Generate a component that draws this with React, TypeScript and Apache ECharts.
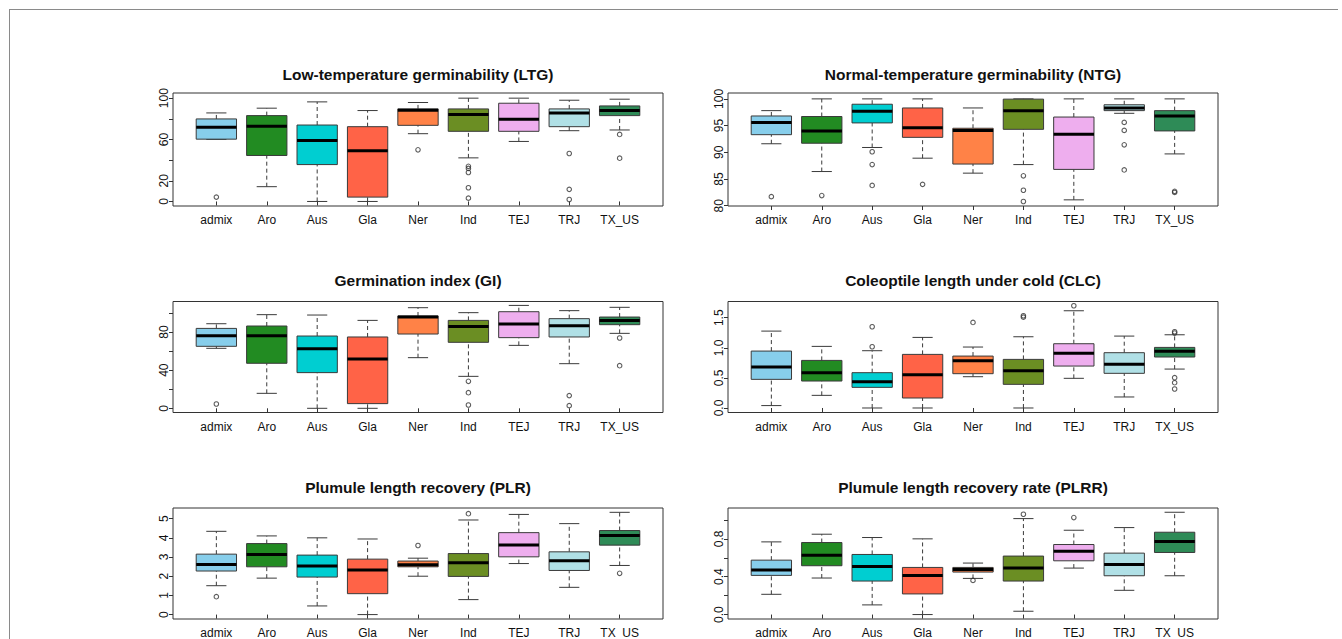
import React, { useEffect, useRef } from "react";
import * as echarts from "echarts";

const categories = ["admix", "Aro", "Aus", "Gla", "Ner", "Ind", "TEJ", "TRJ", "TX_US"];
const boxColors = ["#87CEEB", "#228B22", "#00CED1", "#FF6347", "#FF8247", "#6B8E23", "#EEAEEE", "#B0E0E6", "#2E8B57"];

// each row: [lower whisker, Q1, median, Q3, upper whisker], in category order
const ltgBoxes = [
  [60.0, 60.3, 71.8, 79.9, 85.7],
  [14.3, 44.5, 72.7, 83.1, 90.3],
  [0, 35.7, 59.1, 74.0, 96.4],
  [0, 4.2, 49.0, 72.4, 88.0],
  [65.6, 73.7, 88.3, 89.6, 95.8],
  [42.2, 67.9, 84.1, 89.6, 100],
  [58.1, 67.9, 79.5, 95.1, 100],
  [68.5, 72.4, 85.7, 89.6, 98.0],
  [69.2, 83.1, 88.0, 92.5, 99.0],
];
// each row: [category index, value]
const ltgOutliers = [[0, 4.2], [4, 50], [5, 34], [5, 32], [5, 28], [5, 13.3], [5, 3.2], [7, 46.4], [7, 11.7], [7, 1.9], [8, 64.9], [8, 41.9]];

const ntgBoxes = [
  [91.6, 93.3, 95.6, 96.8, 97.8],
  [86.4, 91.7, 94.0, 96.7, 100],
  [90.9, 95.5, 97.7, 99.0, 100],
  [88.9, 92.8, 94.6, 98.3, 100],
  [86.1, 87.8, 94.1, 94.5, 98.3],
  [87.7, 94.3, 97.8, 99.95, 100],
  [81.1, 86.8, 93.4, 96.6, 100],
  [97.3, 97.8, 98.3, 98.9, 100],
  [89.7, 94.0, 96.8, 97.8, 100],
];
const ntgOutliers = [[0, 81.7], [1, 81.9], [2, 90.1], [2, 87.7], [2, 83.8], [3, 84.0], [5, 85.6], [5, 82.9], [5, 80.8], [7, 95.6], [7, 94.1], [7, 91.4], [7, 86.7], [8, 82.7], [8, 82.5]];

const giBoxes = [
  [62.9, 65.0, 76.2, 83.8, 88.7],
  [15.7, 47.2, 76.2, 86.3, 98.2],
  [0, 37.4, 62.5, 75.8, 97.8],
  [0, 4.9, 51.7, 74.8, 92.2],
  [53.1, 77.9, 95.7, 96.8, 105.5],
  [33.5, 69.2, 85.9, 92.2, 100.3],
  [66.0, 74.1, 88.4, 101.3, 107.9],
  [46.8, 74.8, 86.6, 94.0, 102.4],
  [78.6, 87.7, 92.2, 95.7, 105.9],
];
const giOutliers = [[0, 4.5], [5, 28.3], [5, 16.4], [5, 3.5], [7, 13.3], [7, 2.8], [8, 73.7], [8, 44.7]];

const clcBoxes = [
  [0.04, 0.476, 0.681, 0.946, 1.278],
  [0.21, 0.448, 0.587, 0.791, 1.024],
  [0, 0.343, 0.437, 0.587, 0.952],
  [0, 0.166, 0.553, 0.891, 1.173],
  [0.52, 0.57, 0.786, 0.863, 1.013],
  [0, 0.393, 0.62, 0.808, 1.184],
  [0.493, 0.697, 0.908, 1.068, 1.616],
  [0.183, 0.576, 0.725, 0.919, 1.195],
  [0.647, 0.847, 0.941, 1.007, 1.217],
];
const clcOutliers = [[2, 1.35], [2, 1.018], [4, 1.422], [5, 1.533], [5, 1.51], [6, 1.7], [8, 1.267], [8, 1.245], [8, 0.504], [8, 0.421], [8, 0.315]];

const plrBoxes = [
  [1.505, 2.27, 2.61, 3.15, 4.34],
  [1.9, 2.49, 3.13, 3.7, 4.1],
  [0.45, 1.955, 2.53, 3.1, 4.0],
  [0, 1.09, 2.32, 2.89, 3.94],
  [2.0, 2.49, 2.6, 2.79, 2.94],
  [0.78, 1.99, 2.7, 3.18, 4.93],
  [2.66, 3.01, 3.63, 4.27, 5.22],
  [1.42, 2.3, 2.8, 3.27, 4.74],
  [2.56, 3.62, 4.12, 4.38, 5.33],
];
const plrOutliers = [[0, 0.934], [4, 3.6], [5, 5.26], [8, 2.15]];

const plrrBoxes = [
  [0.214, 0.414, 0.47, 0.575, 0.768],
  [0.386, 0.516, 0.628, 0.761, 0.849],
  [0.102, 0.354, 0.509, 0.635, 0.814],
  [0, 0.218, 0.414, 0.498, 0.8],
  [0.382, 0.449, 0.477, 0.498, 0.544],
  [0.035, 0.354, 0.491, 0.618, 1.014],
  [0.491, 0.568, 0.67, 0.74, 0.891],
  [0.256, 0.41, 0.53, 0.649, 0.919],
  [0.41, 0.656, 0.772, 0.87, 1.081],
];
const plrrOutliers = [[4, 0.361], [5, 1.06], [6, 1.025]];

const ltgTicks = [0, 20, 40, 60, 80, 100];
const ltgLabels = [0, 20, 60, 100];
const ntgTicks = [80, 85, 90, 95, 100];
const giTicks = [0, 20, 40, 60, 80, 100];
const giLabels = [0, 40, 80];
const clcTicks = [0, 0.5, 1.0, 1.5];
const plrTicks = [0, 1, 2, 3, 4, 5];
const plrrTicks = [0, 0.2, 0.4, 0.6, 0.8, 1.0];
const plrrLabels = [0, 0.4, 0.8];

const panels = [
  { title: "Low-temperature germinability (LTG)", boxes: ltgBoxes, outliers: ltgOutliers, yMin: -4.4, yMax: 105, ticks: ltgTicks, labels: ltgLabels, dec: 0 },
  { title: "Normal-temperature germinability (NTG)", boxes: ntgBoxes, outliers: ntgOutliers, yMin: 79.95, yMax: 101.1, ticks: ntgTicks, labels: ntgTicks, dec: 0 },
  { title: "Germination index (GI)", boxes: giBoxes, outliers: giOutliers, yMin: -4.4, yMax: 112, ticks: giTicks, labels: giLabels, dec: 0 },
  { title: "Coleoptile length under cold (CLC)", boxes: clcBoxes, outliers: clcOutliers, yMin: -0.075, yMax: 1.77, ticks: clcTicks, labels: clcTicks, dec: 1 },
  { title: "Plumule length recovery (PLR)", boxes: plrBoxes, outliers: plrOutliers, yMin: -0.23, yMax: 5.555, ticks: plrTicks, labels: plrTicks, dec: 0 },
  { title: "Plumule length recovery rate (PLRR)", boxes: plrrBoxes, outliers: plrrOutliers, yMin: -0.047, yMax: 1.126, ticks: plrrTicks, labels: plrrLabels, dec: 1 },
];

const FONT = "'Liberation Sans', Arial, Helvetica, sans-serif";
const colLeft = [173, 728];
const plotWidth = 490;
const rows = [
  { top: 93, height: 113, titleY: 75.5 },
  { top: 301.5, height: 111, titleY: 281.7 },
  { top: 508, height: 111.5, titleY: 488.3 },
];
const xPositions = categories.map((_, i) => i + 1);

function buildOption() {
  const grid: any[] = [];
  const xAxis: any[] = [];
  const yAxis: any[] = [];
  const series: any[] = [];
  const title: any[] = [];

  panels.forEach((p, k) => {
    const r = rows[Math.floor(k / 2)];
    const left = colLeft[k % 2];
    grid.push({
      left, top: r.top, width: plotWidth, height: r.height,
      show: true, borderColor: "#333", borderWidth: 1, backgroundColor: "rgba(0,0,0,0)", containLabel: false,
    });
    title.push({
      text: p.title, left: left + plotWidth / 2, top: r.titleY - 9, textAlign: "center", padding: 0,
      textStyle: { fontFamily: FONT, fontSize: 15.5, fontWeight: "bold", color: "#111" },
    });
    xAxis.push({
      type: "value", gridIndex: k, min: 0.14, max: 9.86,
      splitLine: { show: false }, axisLine: { show: false },
      axisTick: { show: true, length: 4, customValues: xPositions, lineStyle: { color: "#333", width: 1 } },
      axisLabel: {
        customValues: xPositions, margin: 8, fontSize: 12, color: "#111", fontFamily: FONT,
        formatter: (v: number) => categories[Math.round(v) - 1] ?? "",
      },
    });
    yAxis.push({
      type: "value", gridIndex: k, min: p.yMin, max: p.yMax,
      splitLine: { show: false }, axisLine: { show: false },
      axisTick: { show: true, length: 4, customValues: p.ticks, lineStyle: { color: "#333", width: 1 } },
      axisLabel: {
        customValues: p.labels, rotate: 90, margin: 3, fontSize: 12, color: "#111", fontFamily: FONT,
        formatter: (v: number) => v.toFixed(p.dec),
      },
    });
    series.push({
      type: "custom", xAxisIndex: k, yAxisIndex: k,
      encode: { x: 0, y: [1, 2, 3, 4, 5] },
      data: p.boxes.map((b, i) => [i + 1, ...b]),
      renderItem: (params: any, api: any) => {
        const x = api.value(0);
        const lo = api.coord([x, api.value(1)]);
        const q1 = api.coord([x, api.value(2)]);
        const med = api.coord([x, api.value(3)]);
        const q3 = api.coord([x, api.value(4)]);
        const hi = api.coord([x, api.value(5)]);
        const unit = api.size([1, 0])[0];
        const hb = unit * 0.4;
        const hs = unit * 0.2;
        const cx = lo[0];
        const edge = "#3a3a3a";
        return {
          type: "group",
          children: [
            { type: "line", shape: { x1: cx, y1: q3[1], x2: cx, y2: hi[1] }, style: { stroke: edge, lineWidth: 1, lineDash: [4, 3] } },
            { type: "line", shape: { x1: cx, y1: lo[1], x2: cx, y2: q1[1] }, style: { stroke: edge, lineWidth: 1, lineDash: [4, 3] } },
            { type: "line", shape: { x1: cx - hs, y1: hi[1], x2: cx + hs, y2: hi[1] }, style: { stroke: edge, lineWidth: 1 } },
            { type: "line", shape: { x1: cx - hs, y1: lo[1], x2: cx + hs, y2: lo[1] }, style: { stroke: edge, lineWidth: 1 } },
            { type: "rect", shape: { x: cx - hb, y: q3[1], width: 2 * hb, height: q1[1] - q3[1] }, style: { fill: boxColors[params.dataIndex], stroke: edge, lineWidth: 1 } },
            { type: "line", shape: { x1: cx - hb, y1: med[1], x2: cx + hb, y2: med[1] }, style: { stroke: "#000", lineWidth: 3 } },
          ],
        };
      },
    });
    series.push({
      type: "scatter", xAxisIndex: k, yAxisIndex: k,
      data: p.outliers.map(([i, v]) => [i + 1, v]),
      symbol: "circle", symbolSize: 4.5,
      itemStyle: { color: "rgba(0,0,0,0)", borderColor: "#333", borderWidth: 1.1 },
    });
  });

  return {
    animation: false,
    backgroundColor: "#fff",
    title,
    grid,
    xAxis,
    yAxis,
    series,
  };
}

export default function App() {
  const ref = useRef<HTMLDivElement>(null);
  useEffect(() => {
    if (!ref.current) return;
    const chart = echarts.init(ref.current, undefined, { renderer: "svg" });
    chart.setOption(buildOption() as any);
    return () => chart.dispose();
  }, []);
  return (
    <>
      <div ref={ref} style={{ position: "fixed", left: 0, top: 0, width: 1342, height: 639 }} />
      <div
        style={{
          position: "fixed", left: 9, top: 9, width: 1329, height: 640, boxSizing: "border-box",
          borderLeft: "1px solid #8a8a8a", borderTop: "1px solid #8a8a8a", pointerEvents: "none",
        }}
      />
    </>
  );
}
